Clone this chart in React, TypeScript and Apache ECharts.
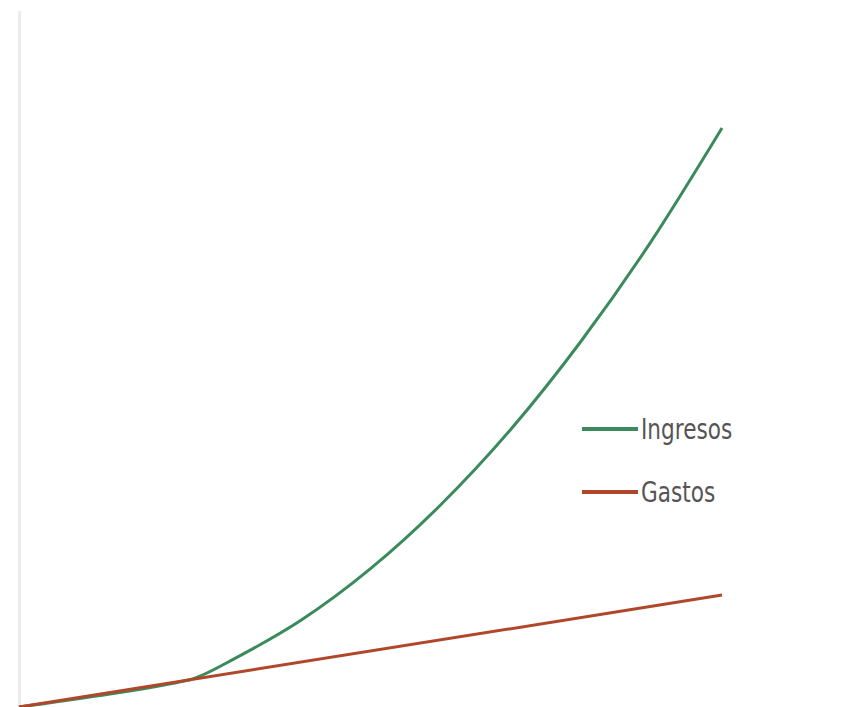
import React, { useEffect, useRef } from "react";
import * as echarts from "echarts";

// Units produced (x) and amounts (y)
const units: number[] = [0, 2.4, 3, 4, 5, 6, 7, 8, 9, 10];
const ingresos: number[] = [0, 3.84, 6.6, 12.4, 19.9, 29.1, 40.0, 52.7, 67.1, 83.3];
const gastosUnits: number[] = [0, 10];
const gastos: number[] = [0, 16.1];
const seriesNames: string[] = ["Ingresos", "Gastos"];
const seriesColors: string[] = ["#3a8a5c", "#b0472a"];

export default function App() {
  const ref = useRef<HTMLDivElement>(null);

  useEffect(() => {
    if (!ref.current) return;
    const chart = echarts.init(ref.current, undefined, { renderer: "svg" });

    // Hand-built legend: a short bar and a narrow label per series
    const legendTop = 429;
    const legendStep = 63;
    const legendItems = seriesNames.flatMap((name, i) => [
      {
        type: "rect",
        shape: { x: 582, y: legendTop + i * legendStep - 2, width: 56, height: 4 },
        style: { fill: seriesColors[i] },
      },
      {
        type: "text",
        x: 641,
        y: legendTop + i * legendStep,
        scaleX: 0.8,
        scaleY: 1.05,
        style: {
          text: name,
          fill: "#555555",
          font: "27px 'DejaVu Sans', sans-serif",
          textVerticalAlign: "middle",
          verticalAlign: "middle",
          align: "left",
        },
      },
    ]);

    chart.setOption({
      animation: false,
      backgroundColor: "#ffffff",
      grid: { left: 19, right: 133, top: 12, bottom: 0 },
      graphic: legendItems,
      xAxis: {
        type: "value",
        min: 0,
        max: 10,
        axisLine: { show: false },
        axisTick: { show: false },
        axisLabel: { show: false },
        splitLine: { show: false },
      },
      yAxis: {
        type: "value",
        min: 0,
        max: 100,
        axisLine: { show: true, lineStyle: { color: "#ececec", width: 3 } },
        axisTick: { show: false },
        axisLabel: { show: false },
        splitLine: { show: false },
      },
      series: [
        {
          name: seriesNames[0],
          type: "line",
          smooth: 0.3,
          showSymbol: false,
          data: units.map((u, i) => [u, ingresos[i]]),
          lineStyle: { color: seriesColors[0], width: 3 },
          itemStyle: { color: seriesColors[0] },
        },
        {
          name: seriesNames[1],
          type: "line",
          showSymbol: false,
          data: gastosUnits.map((u, i) => [u, gastos[i]]),
          lineStyle: { color: seriesColors[1], width: 3 },
          itemStyle: { color: seriesColors[1] },
        },
      ],
    });
    return () => chart.dispose();
  }, []);

  return (
    <div
      ref={ref}
      style={{ position: "fixed", left: 0, top: 0, width: 855, height: 707 }}
    />
  );
}
